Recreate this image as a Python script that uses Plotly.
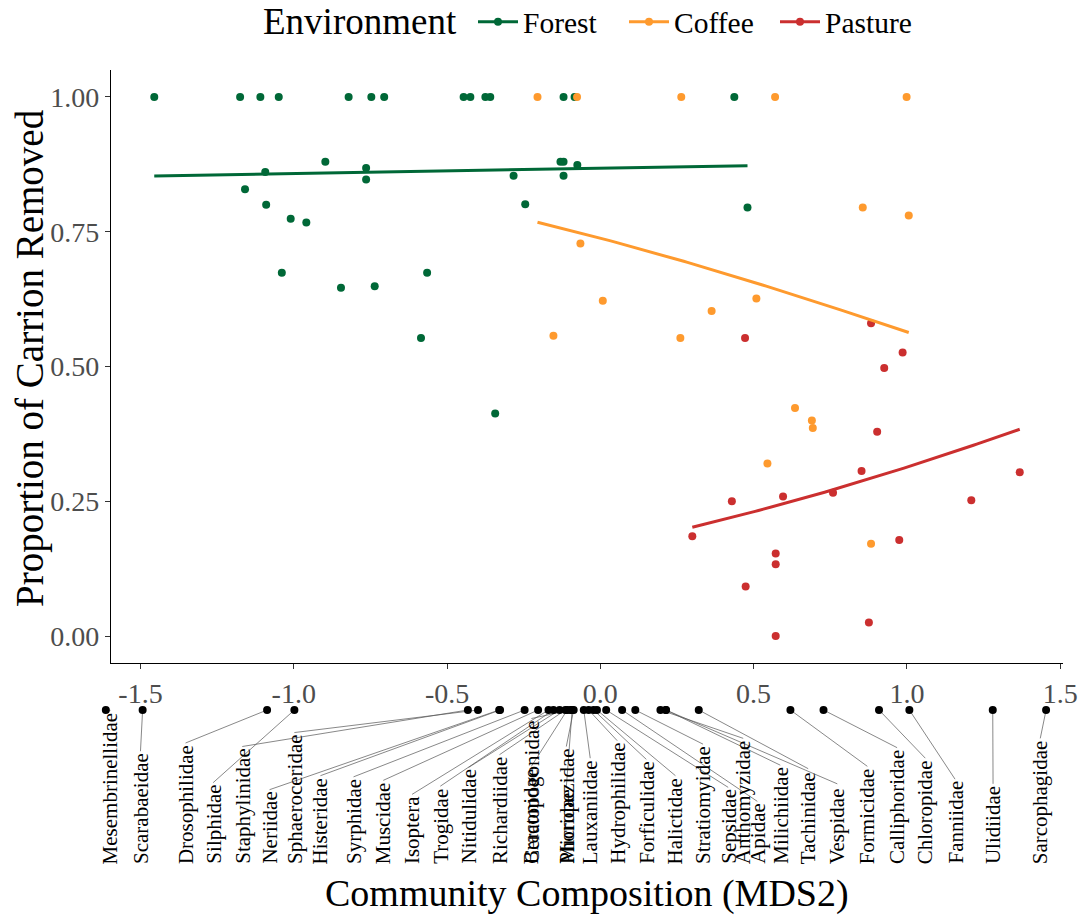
import numpy as np
import plotly.graph_objects as go

# ---------------- data ----------------
forest_x = [-1.455, -1.175, -1.109, -1.049, -0.821, -0.747, -0.705, -0.446, -0.424, -0.375,
            -0.359, -0.120, -0.084, 0.437, -0.897, -1.093, -0.764, -0.764, -1.159, -1.090,
            -1.010, -0.959, -1.039, -0.846, -0.736, -0.565, -0.585, -0.343, -0.130, -0.120,
            -0.075, -0.283, -0.120, -0.245, 0.480]
forest_y = [1, 1, 1, 1, 1, 1, 1, 1, 1, 1,
            1, 1, 1, 1, 0.880, 0.861, 0.868, 0.847, 0.829, 0.800,
            0.774, 0.767, 0.674, 0.646, 0.649, 0.674, 0.553, 0.413, 0.880, 0.880,
            0.874, 0.854, 0.854, 0.801, 0.795]

coffee_x = [-0.205, -0.076, 0.264, 0.570, 0.999, 0.856, 1.006, -0.065, 0.008, -0.153,
            0.261, 0.363, 0.509, 0.635, 0.690, 0.693, 0.545, 0.883]
coffee_y = [1, 1, 1, 1, 1, 0.795, 0.780, 0.728, 0.622, 0.557,
            0.553, 0.603, 0.626, 0.423, 0.400, 0.386, 0.320, 0.171]

pasture_x = [0.472, 0.883, 0.986, 0.926, 0.903, 0.852, 0.596, 0.759, 0.429, 0.300,
             0.572, 0.572, 0.474, 0.572, 0.876, 0.975, 1.368, 1.210]
pasture_y = [0.553, 0.580, 0.526, 0.497, 0.379, 0.306, 0.259, 0.266, 0.250, 0.185,
             0.153, 0.133, 0.092, 0.000, 0.025, 0.178, 0.304, 0.252]

environments = ["Forest", "Coffee", "Pasture"]

families = ["Mesembrinellidae", "Scarabaeidae", "Drosophilidae", "Silphidae", "Staphylinidae",
            "Neriidae", "Sphaeroceridae", "Histeridae", "Syrphidae", "Muscidae",
            "Isoptera", "Trogidae", "Nitidulidae", "Richardiidae", "Braconidae",
            "Ceratopogonidae", "Phoridae", "Micropezidae", "Lauxaniidae", "Hydrophilidae",
            "Forficulidae", "Halictidae", "Stratiomyidae", "Sepsidae", "Anthomyzidae",
            "Apidae", "Milichiidae", "Tachinidae", "Vespidae", "Formicidae",
            "Calliphoridae", "Chloropidae", "Fanniidae", "Ulidiidae", "Sarcophagidae"]
family_mds = [-1.613, -1.493, -1.087, -0.998, -0.432,
              -0.330, -0.399, -0.327, -0.247, -0.203,
              -0.169, -0.153, -0.133, -0.114, -0.108,
              -0.098, -0.092, -0.087, -0.054, -0.038,
              -0.022, -0.011, 0.114, 0.019, 0.196,
              0.071, 0.214, 0.321, 0.214, 0.620,
              0.728, 0.909, 1.008, 1.280, 1.454]

x_tick_vals = [-1.5, -1.0, -0.5, 0.0, 0.5, 1.0, 1.5]
x_tick_text = ["-1.5", "-1.0", "-0.5", "0.0", "0.5", "1.0", "1.5"]
y_tick_vals = [0, 0.25, 0.5, 0.75, 1.0]
y_tick_text = ["0.00", "0.25", "0.50", "0.75", "1.00"]

# ---------------- layout parameters (label placement, as repelled in the figure) ----------------
label_pos = [-1.598, -1.500, -1.353, -1.263, -1.168,
             -1.079, -0.998, -0.913, -0.805, -0.708,
             -0.614, -0.522, -0.430, -0.329, -0.225,
             -0.225, -0.111, -0.111, -0.033, 0.055,
             0.150, 0.245, 0.335, 0.417, 0.466,
             0.512, 0.587, 0.678, 0.773, 0.871,
             0.968, 1.060, 1.157, 1.281, 1.435]

colors = {"Forest": "#006837", "Coffee": "#FE9A2E", "Pasture": "#CB2F2F"}
FONT = "Liberation Serif"

W, H = 1082, 916
ML, MR, MT, MB = 111, 19, 70, 46
PW, PH = W - ML - MR, H - MT - MB
MAIN_BOTTOM = (H - MB - 663) / PH
STRIP_TOP = 0.2
LABEL_SIZE = 21
TITLE_SIZE = 38


def logistic_fit(x, y):
    x = np.asarray(x, float)
    y = np.asarray(y, float)
    X = np.column_stack([np.ones_like(x), x])
    beta = np.zeros(2)
    for _ in range(100):
        eta = X @ beta
        mu = 1 / (1 + np.exp(-eta))
        w = np.clip(mu * (1 - mu), 1e-9, None)
        z = eta + (y - mu) / w
        new = np.linalg.solve(X.T @ (w[:, None] * X), X.T @ (w * z))
        if np.max(np.abs(new - beta)) < 1e-10:
            beta = new
            break
        beta = new
    xs = np.linspace(x.min(), x.max(), 100)
    return xs, 1 / (1 + np.exp(-(beta[0] + beta[1] * xs)))


series = {"Forest": (forest_x, forest_y), "Coffee": (coffee_x, coffee_y),
          "Pasture": (pasture_x, pasture_y)}

all_x = forest_x + coffee_x + pasture_x
span = max(all_x) - min(all_x)
xr = [min(all_x) - 0.05 * span, max(all_x) + 0.05 * span]

fig = go.Figure()

for env in environments:
    xs, ys = series[env]
    fig.add_trace(go.Scatter(x=xs, y=ys, mode="markers", legendgroup=env, showlegend=False,
                             marker=dict(color=colors[env], size=8, line=dict(width=0)),
                             hoverinfo="x+y", name=env))
for env in environments:
    xs, ys = series[env]
    fx, fy = logistic_fit(xs, ys)
    fig.add_trace(go.Scatter(x=fx, y=fy, mode="lines", legendgroup=env, showlegend=False,
                             line=dict(color=colors[env], width=3), name=env))
for env in environments:
    fig.add_trace(go.Scatter(x=[None], y=[None], mode="lines+markers", name=env,
                             legendgroup=env,
                             line=dict(color=colors[env], width=3),
                             marker=dict(color=colors[env], size=8)))

# Times-metric character widths (per 1000 em) to find label tops
cw = dict(a=444, b=500, c=444, d=500, e=444, f=333, g=500, h=500, i=278, j=278, k=500, l=278,
          m=778, n=500, o=500, p=500, q=500, r=333, s=389, t=278, u=500, v=500, w=722, x=500,
          y=500, z=444, A=722, B=667, C=667, D=722, E=611, F=556, G=722, H=722, I=333, J=389,
          K=722, L=611, M=889, N=722, O=722, P=556, Q=722, R=667, S=556, T=611, U=722, V=722,
          W=944, X=722, Y=722, Z=611)


def to_paper_x(xv):
    return (xv - xr[0]) / (xr[1] - xr[0])


def px_x(px):
    return (px - ML) / PW


def px_y(py):
    return (H - MB - py) / PH


label_bottom_px = 5  # px above the bottom of the plotting area
shapes = []
annotations = []
for fam, mds, lp in zip(families, family_mds, label_pos):
    length = sum(cw.get(ch, 500) for ch in fam) * LABEL_SIZE / 1000
    top = (label_bottom_px + length + 3) / PH
    shapes.append(dict(type="line", xref="paper", yref="paper",
                       x0=to_paper_x(mds), y0=STRIP_TOP, x1=to_paper_x(lp), y1=top,
                       line=dict(color="#555555", width=0.7), layer="below"))
    annotations.append(dict(text=fam, xref="paper", yref="paper", x=to_paper_x(lp),
                            y=label_bottom_px / PH, xanchor="center", yanchor="bottom",
                            textangle=-90, showarrow=False, borderpad=0,
                            font=dict(family=FONT, size=LABEL_SIZE, color="black")))
# family points (drawn as pixel-sized circles so the outermost one is not culled)
for mds in family_mds:
    shapes.append(dict(type="circle", xref="paper", yref="paper",
                       xsizemode="pixel", ysizemode="pixel",
                       xanchor=to_paper_x(mds), yanchor=STRIP_TOP,
                       x0=-4, x1=4, y0=-4, y1=4,
                       fillcolor="black", line=dict(width=0), layer="above"))

annotations.append(dict(text="Community Composition (MDS2)", xref="paper", yref="paper",
                        x=0.5, y=px_y(893), xanchor="center", yanchor="middle",
                        showarrow=False, font=dict(family=FONT, size=TITLE_SIZE, color="black")))
annotations.append(dict(text="Proportion of Carrion Removed", xref="paper", yref="paper",
                        x=px_x(30), y=px_y(358), xanchor="center",
                        yanchor="middle", textangle=-90, showarrow=False,
                        font=dict(family=FONT, size=TITLE_SIZE + 1, color="black")))
annotations.append(dict(text="Environment", xref="paper", yref="paper",
                        x=px_x(459), y=px_y(22), xanchor="right", yanchor="middle",
                        showarrow=False, font=dict(family=FONT, size=37, color="black")))

fig.update_layout(
    width=W, height=H,
    margin=dict(l=ML, r=MR, t=MT, b=MB, autoexpand=False),
    paper_bgcolor="white", plot_bgcolor="white",
    font=dict(family=FONT, color="black"),
    showlegend=True,
    legend=dict(orientation="h", x=px_x(473), xanchor="left", y=px_y(22),
                yanchor="middle", itemwidth=40, entrywidthmode="pixels", entrywidth=96,
                font=dict(family=FONT, size=29.5), bgcolor="rgba(0,0,0,0)"),
    xaxis=dict(range=xr, anchor="y", showgrid=False, zeroline=False, showline=True,
               linecolor="black", linewidth=1.3, ticks="outside", ticklen=5,
               tickcolor="#333333", tickwidth=1.1, tickvals=x_tick_vals, ticktext=x_tick_text,
               tickfont=dict(family=FONT, size=28, color="#4D4D4D")),
    yaxis=dict(domain=[MAIN_BOTTOM, 1], range=[-0.05, 1.05], anchor="x", showgrid=False,
               zeroline=False, showline=True, linecolor="black", linewidth=1.3,
               ticks="outside", ticklen=5, tickcolor="#333333", tickwidth=1.1,
               tickvals=y_tick_vals, ticktext=y_tick_text,
               tickfont=dict(family=FONT, size=28, color="#4D4D4D")),
    shapes=shapes,
    annotations=annotations,
)

fig.write_html("out.html", config={"displayModeBar": False},
               post_script="document.body.style.margin='0';document.body.style.padding='0';")
